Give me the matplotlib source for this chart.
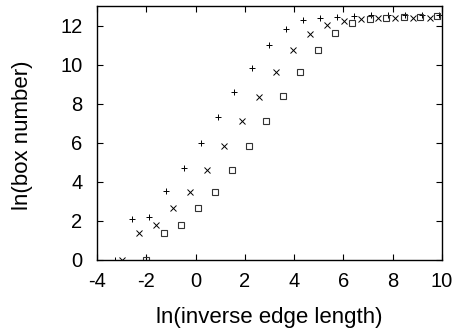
import matplotlib
matplotlib.use("Agg")
import matplotlib.pyplot as plt

plt.rcParams['font.family'] = ['Liberation Sans', 'DejaVu Sans']
plt.rcParams['axes.unicode_minus'] = False

# series 1 (+)
x_plus = [-3.27, -2.59, -1.90, -1.19, -0.49, 0.20, 0.90, 1.57, 2.27, 2.99, 3.67,
          4.38, 5.04, 5.74, 6.43, 7.12, 7.81, 8.51, 9.20, 9.89]
y_plus = [0.0, 2.09, 2.22, 3.55, 4.70, 5.98, 7.32, 8.60, 9.85, 11.00, 11.83,
          12.26, 12.37, 12.45, 12.50, 12.52, 12.53, 12.54, 12.54, 12.54]

# series 2 (x)
x_cross = [-3.00, -2.29, -1.59, -0.90, -0.22, 0.48, 1.17, 1.87, 2.56, 3.26, 3.94,
           4.63, 5.34, 6.01, 6.72, 7.39, 8.11, 8.83, 9.50]
y_cross = [0.0, 1.40, 1.79, 2.65, 3.47, 4.58, 5.85, 7.09, 8.36, 9.64, 10.77,
           11.59, 12.02, 12.22, 12.32, 12.36, 12.38, 12.39, 12.39]

# series 3 (box)
x_box = [-2.00, -1.29, -0.59, 0.09, 0.78, 1.48, 2.18, 2.87, 3.55, 4.25, 4.96,
         5.67, 6.35, 7.07, 7.75, 8.45, 9.13, 9.81]
y_box = [0.0, 1.40, 1.79, 2.65, 3.49, 4.58, 5.85, 7.09, 8.37, 9.64, 10.77,
         11.62, 12.13, 12.33, 12.40, 12.45, 12.46, 12.47]

fig = plt.figure(figsize=(4.56, 3.32), dpi=100)
ax = fig.add_axes([0.213, 0.217, 0.756, 0.765])

ax.plot(x_plus, y_plus, linestyle='none', marker='+', color='black',
        markersize=5, markeredgewidth=0.7)
ax.plot(x_cross, y_cross, linestyle='none', marker='x', color='black',
        markersize=3.8, markeredgewidth=0.7)
ax.plot(x_box, y_box, linestyle='none', marker='s', markerfacecolor='none',
        color='#333333', markersize=4.2, markeredgewidth=0.8)

ax.set_xlim(-4, 10)
ax.set_ylim(0, 13)
ax.set_xticks([-4, -2, 0, 2, 4, 6, 8, 10])
ax.set_yticks([0, 2, 4, 6, 8, 10, 12])
ax.tick_params(direction='in', top=True, right=True, length=4, width=0.8,
               labelsize=14.5)
ax.tick_params(axis='x', pad=9)
ax.tick_params(axis='y', pad=10.5)
for s in ax.spines.values():
    s.set_linewidth(1.0)

ax.set_xlabel("ln(inverse edge length)", fontsize=16, va='center')
ax.set_ylabel("ln(box number)", fontsize=16, va='center')
ax.xaxis.set_label_coords(0.5, -0.228)
ax.yaxis.set_label_coords(-0.217, 0.49)

plt.savefig("out.png", dpi=100)
